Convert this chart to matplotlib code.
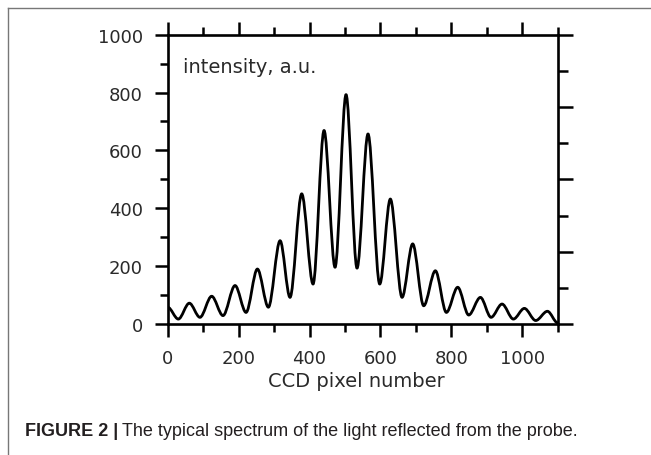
#!/usr/bin/env python3
import matplotlib
matplotlib.use("Agg")
import matplotlib.pyplot as plt
from matplotlib.path import Path
from matplotlib.patches import PathPatch
from matplotlib.lines import Line2D
from matplotlib.ticker import MultipleLocator

# extrema of the fringe pattern (start, troughs/peaks, end)
pixel = [0, 30, 61, 91, 124, 156, 190, 221, 253, 284, 317, 345, 378, 410,
         441, 472, 503, 534, 565, 598, 628, 661, 691, 722, 755, 786, 818,
         849, 882, 912, 943, 975, 1006, 1038, 1071, 1100]
intensity = [58, 17, 72, 23, 96, 29, 133, 40, 190, 58, 288, 92, 450, 138,
             669, 196, 793, 193, 657, 138, 432, 92, 277, 63, 184, 40, 127,
             31, 92, 23, 69, 17, 54, 12, 44, 4]

x_ticks = [0, 200, 400, 600, 800, 1000]
y_ticks = [0, 200, 400, 600, 800, 1000]

W, H = 651, 456
fig = plt.figure(figsize=(W / 100, H / 100), dpi=100)
ax = fig.add_axes([167.7 / W, 1 - 325 / H, 390 / W, 289.3 / H])

# smooth curve through the extrema (horizontal tangent at each one)
verts = [(pixel[0], intensity[0])]
codes = [Path.MOVETO]
for i in range(1, len(pixel)):
    x0, y0 = pixel[i - 1], intensity[i - 1]
    x1, y1 = pixel[i], intensity[i]
    dx = (x1 - x0) / 3.0
    verts += [(x0 + dx, y0), (x1 - dx, y1), (x1, y1)]
    codes += [Path.CURVE4] * 3
ax.add_patch(PathPatch(Path(verts, codes), facecolor="none",
                       edgecolor="black", lw=2.0, capstyle="round",
                       joinstyle="round", zorder=3))

ax.set_xlim(0, 1100)
ax.set_ylim(0, 1000)
ax.set_xticks(x_ticks)
ax.set_yticks(y_ticks)
ax.xaxis.set_minor_locator(MultipleLocator(100))
ax.yaxis.set_minor_locator(MultipleLocator(100))

txt_col = "#2a2a2a"
for s in ax.spines.values():
    s.set_linewidth(1.9)
ax.tick_params(which="major", direction="out", length=9.4, width=1.8,
               labelsize=13, pad=8.5, labelcolor=txt_col,
               top=True, right=False)
ax.tick_params(which="minor", direction="out", length=5.8, width=1.8,
               top=True, right=False)

# right axis has its own tick spacing (eighths)
ax2 = ax.twinx()
ax2.set_ylim(0, 1000)
ax2.yaxis.set_major_locator(MultipleLocator(250))
ax2.yaxis.set_minor_locator(MultipleLocator(125))
ax2.tick_params(which="major", direction="out", length=10.5, width=1.8,
                labelright=False)
ax2.tick_params(which="minor", direction="out", length=7, width=1.8)
for s in ax2.spines.values():
    s.set_visible(False)

ax.text(0.039, 0.871, "intensity, a.u.", transform=ax.transAxes,
        fontsize=14, color=txt_col, va="baseline", ha="left")
fig.text(356 / W, 1 - 387 / H, "CCD pixel number", fontsize=14,
         color=txt_col, ha="center", va="baseline")

# page frame around the figure
fig.add_artist(Line2D([8 / W, 1.0], [1 - 9 / H, 1 - 9 / H],
                      transform=fig.transFigure, color="#777777", lw=1.0))
fig.add_artist(Line2D([8 / W, 8 / W], [0.0, 1 - 9 / H],
                      transform=fig.transFigure, color="#777777", lw=1.0))

# caption
cap_y = 1 - 436 / H
cap = fig.text(25 / W, cap_y, "FIGURE 2 |", fontsize=13,
               fontweight="bold", family="Liberation Sans", color="#231f20",
               va="baseline", ha="left")
fig.canvas.draw()
bb = cap.get_window_extent()
fig.text((bb.x1 + 4) / W, cap_y,
         "The typical spectrum of the light reflected from the probe.",
         fontsize=13, family="Liberation Sans", color="#231f20",
         va="baseline", ha="left")

fig.savefig("out.png", dpi=100)
